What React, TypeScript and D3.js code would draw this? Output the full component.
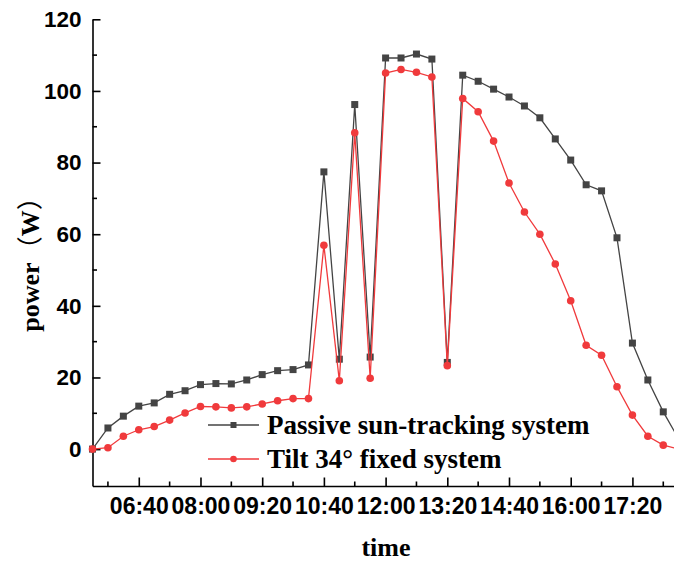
import React, { useEffect, useRef } from "react";
import * as d3 from "d3";

// sample times, every 20 min
const times = [
  "05:40", "06:00", "06:20", "06:40", "07:00", "07:20", "07:40", "08:00", "08:20", "08:40",
  "09:00", "09:20", "09:40", "10:00", "10:20", "10:40", "11:00", "11:20", "11:40", "12:00",
  "12:20", "12:40", "13:00", "13:20", "13:40", "14:00", "14:20", "14:40", "15:00", "15:20",
  "15:40", "16:00", "16:20", "16:40", "17:00", "17:20", "17:40", "18:00", "18:20",
];

const tracking = [
  0, 5.9, 9.2, 12.0, 12.9, 15.3, 16.3, 18.0, 18.3, 18.2,
  19.3, 20.8, 21.9, 22.2, 23.5, 77.4, 25.1, 96.2, 25.7, 109.2,
  109.2, 110.3, 108.9, 24.2, 104.4, 102.7, 100.5, 98.3, 95.8, 92.5,
  86.6, 80.7, 73.8, 72.1, 59.0, 29.6, 19.3, 10.4, 2.8,
];

const fixed = [
  0, 0.4, 3.6, 5.4, 6.3, 8.1, 10.1, 11.9, 11.8, 11.5,
  11.8, 12.6, 13.5, 14.1, 14.1, 56.9, 19.1, 88.3, 19.8, 105.0,
  106.0, 105.2, 103.9, 23.3, 97.9, 94.2, 86.0, 74.3, 66.2, 60.0,
  51.7, 41.4, 29.0, 26.2, 17.4, 9.5, 3.6, 1.1, 0,
];

const xTickLabels = ["06:40", "08:00", "09:20", "10:40", "12:00", "13:20", "14:40", "16:00", "17:20"];
const yTicks = [0, 20, 40, 60, 80, 100, 120];

const seriesNames = ["Passive sun-tracking system", "Tilt 34° fixed system"];

const toMin = (s: string) => {
  const [h, m] = s.split(":").map(Number);
  return h * 60 + m;
};

export default function App() {
  const ref = useRef<SVGSVGElement>(null);

  useEffect(() => {
    const svg = d3.select(ref.current);
    svg.selectAll("*").remove();

    const x = d3.scaleLinear().domain([toMin("05:40"), toMin("18:20")]).range([92.5, 678.7]);
    const y = d3.scaleLinear().domain([-10.3, 120]).range([486, 19.3]);

    const axisW = 1.6;
    const tickFont = "'Liberation Sans', Arial, sans-serif";
    const serif = "'Liberation Serif', 'Times New Roman', serif";

    // y axis
    const ya = svg.append("g").attr("transform", "translate(92.5,0)");
    ya.call(d3.axisLeft(y).tickValues(yTicks).tickSize(-8).tickSizeOuter(0).tickPadding(11) as any);
    ya.select(".domain").attr("stroke-width", axisW);
    ya.selectAll(".tick line").attr("stroke-width", axisW);
    ya.selectAll(".tick text")
      .attr("font-family", tickFont)
      .attr("font-weight", "bold")
      .attr("font-size", 22.5)
      .attr("fill", "#000");
    ya.append("g")
      .selectAll("line")
      .data([10, 30, 50, 70, 90, 110])
      .enter()
      .append("line")
      .attr("x1", 0).attr("x2", 4.5)
      .attr("y1", (d) => y(d)).attr("y2", (d) => y(d))
      .attr("stroke", "#000").attr("stroke-width", axisW);

    // x axis
    const majors = xTickLabels.map(toMin);
    const xa = svg.append("g").attr("transform", "translate(0,486)");
    xa.call(
      d3.axisBottom(x)
        .tickValues(majors)
        .tickFormat((d, i) => xTickLabels[i])
        .tickSize(-8.5)
        .tickSizeOuter(0)
        .tickPadding(12) as any
    );
    xa.select(".domain").attr("stroke-width", axisW);
    xa.selectAll(".tick line").attr("stroke-width", axisW);
    xa.selectAll(".tick text")
      .attr("font-family", tickFont)
      .attr("font-weight", "bold")
      .attr("font-size", 23)
      .attr("fill", "#000");
    xa.append("g")
      .selectAll("line")
      .data(majors.map((m) => m - 40).concat([majors[majors.length - 1] + 40]))
      .enter()
      .append("line")
      .attr("x1", (d) => x(d)).attr("x2", (d) => x(d))
      .attr("y1", 0).attr("y2", -4.5)
      .attr("stroke", "#000").attr("stroke-width", axisW);

    // axis titles
    svg.append("text")
      .attr("x", 386).attr("y", 556)
      .attr("text-anchor", "middle")
      .attr("font-family", serif)
      .attr("font-weight", "bold")
      .attr("font-size", 26)
      .text("time");
    const yt = svg.append("text")
      .attr("transform", "translate(39,258) rotate(-90)")
      .attr("text-anchor", "middle")
      .attr("font-family", serif)
      .attr("font-weight", "bold")
      .attr("font-size", 26);
    yt.append("tspan").text("power");
    // full-width brackets from the CJK font
    yt.append("tspan").attr("font-family", "'Noto Sans CJK SC'").attr("font-weight", "normal").text("（");
    yt.append("tspan").text("W");
    yt.append("tspan").attr("font-family", "'Noto Sans CJK SC'").attr("font-weight", "normal").text("）");

    const line = d3.line<number>()
      .x((d, i) => x(toMin(times[i])))
      .y((d) => y(d));

    const black = "#444444";
    const red = "#f03a3c";

    // tracking series
    svg.append("path").datum(tracking)
      .attr("d", line).attr("fill", "none").attr("stroke", black).attr("stroke-width", 1.3);
    svg.append("g").selectAll("rect").data(tracking).enter().append("rect")
      .attr("x", (d, i) => x(toMin(times[i])) - 3.5)
      .attr("y", (d) => y(d) - 3.5)
      .attr("width", 7).attr("height", 7)
      .attr("fill", black);

    // fixed series
    svg.append("path").datum(fixed)
      .attr("d", line).attr("fill", "none").attr("stroke", red).attr("stroke-width", 1.3);
    svg.append("g").selectAll("circle").data(fixed).enter().append("circle")
      .attr("cx", (d, i) => x(toMin(times[i])))
      .attr("cy", (d) => y(d))
      .attr("r", 3.8)
      .attr("fill", red);

    // legend
    const lg = svg.append("g");
    const rows = [425, 459];
    rows.forEach((ry, i) => {
      const c = i === 0 ? black : red;
      lg.append("line").attr("x1", 208).attr("x2", 259).attr("y1", ry).attr("y2", ry)
        .attr("stroke", c).attr("stroke-width", 1.3);
      if (i === 0) {
        lg.append("rect").attr("x", 230.5).attr("y", ry - 3).attr("width", 6).attr("height", 6).attr("fill", c);
      } else {
        lg.append("circle").attr("cx", 233.5).attr("cy", ry).attr("r", 3.3).attr("fill", c);
      }
      lg.append("text")
        .attr("x", 267).attr("y", ry + 8.5)
        .attr("font-family", serif)
        .attr("font-weight", "bold")
        .attr("font-size", 27)
        .text(seriesNames[i]);
    });
  }, []);

  return (
    <svg
      ref={ref}
      width={674}
      height={563}
      style={{ position: "absolute", left: 0, top: 0, background: "#fff", overflow: "hidden" }}
    />
  );
}
